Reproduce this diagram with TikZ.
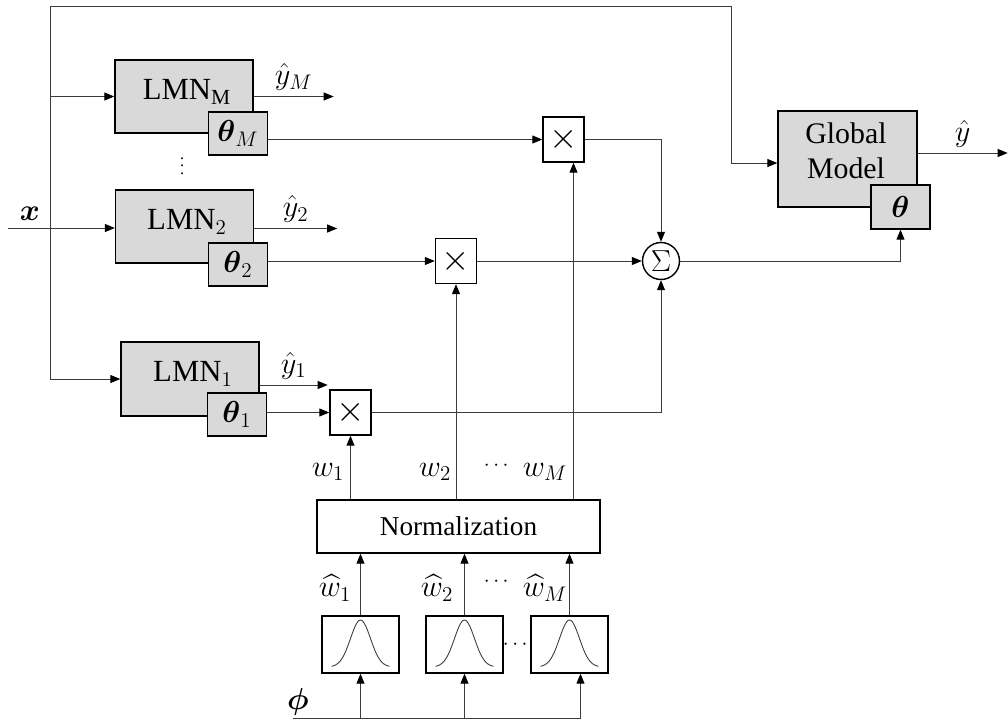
\documentclass[tikz,border=0pt]{standalone}
\usepackage{amsmath}
\usepackage{fontspec}
\setmainfont{Liberation Serif}
\usetikzlibrary{positioning,arrows.meta,calc}
\definecolor{boxgray}{HTML}{D9D9D9}
\definecolor{wire}{HTML}{3C3C3C}

\begin{document}
\begin{tikzpicture}[
  x=0.02cm, y=-0.02cm,
  font=\fontsize{15.5}{18}\selectfont,
  lmn/.style={rectangle, draw, line width=0.8pt, fill=boxgray, inner sep=0pt,
              minimum width=2.76cm, minimum height=1.46cm, align=center},
  thbox/.style={rectangle, draw, line width=0.8pt, fill=boxgray, inner sep=0pt,
                minimum width=1.18cm, minimum height=0.86cm, font=\fontsize{18}{20}\selectfont},
  prodbox/.style={rectangle, draw, line width=0.8pt, fill=white, inner sep=0pt,
                  minimum width=0.82cm, minimum height=0.9cm, font=\fontsize{21}{21}\selectfont},
  sumnode/.style={circle, draw, line width=0.8pt, fill=white, inner sep=0pt,
                  minimum size=0.74cm, font=\fontsize{19}{19}\selectfont},
  normbox/.style={rectangle, draw, line width=0.8pt, inner sep=0pt,
                  minimum width=5.66cm, minimum height=1.06cm},
  gbox/.style={rectangle, draw, line width=0.8pt, inner sep=0pt,
               minimum width=1.54cm, minimum height=1.14cm},
  arr/.style={-{Triangle[length=2mm,width=1.6mm,color=black]}, line width=0.55pt, wire},
  wireline/.style={line width=0.55pt, wire},
  lbl/.style={inner sep=1pt, text=black, font=\fontsize{18}{20}\selectfont},
  boxtxt/.style={inner sep=0pt, text=black, font=\fontsize{17.5}{20}\selectfont, align=center},
  smalldots/.style={inner sep=0pt, text=black, font=\fontsize{9}{9}\selectfont}
]
\useasboundingbox (0,0) rectangle (1008,721);

% --- local models with their parameter boxes ---
\node[lmn] (lmnM) at (184,96.5) {};
\node[boxtxt] (lmnMtxt) at (187,92) {LMN$_{\mathrm{M}}$};
\node[thbox] (thM) at (238,133.5) {$\boldsymbol{\theta}_M$};
\node[smalldots] (vdots) at (182,161) {$\vdots$};
\node[lmn] (lmn2) at (184.5,226.5) {};
\node[boxtxt] (lmn2txt) at (187,222) {LMN$_{2}$};
\node[thbox] (th2) at (238,264.5) {$\boldsymbol{\theta}_2$};
\node[lmn, minimum height=1.48cm] (lmn1) at (190,379) {};
\node[boxtxt] (lmn1txt) at (193,374) {LMN$_{1}$};
\node[thbox] (th1) at (237,414.5) {$\boldsymbol{\theta}_1$};

% --- global model ---
\node[lmn, minimum width=2.78cm, minimum height=1.92cm] (gm) at (847.5,159) {};
\node[boxtxt, font=\fontsize{17}{20}\selectfont] (gmtxt) at (846,151) {Global\\Model};
\node[thbox, minimum height=0.88cm] (thG) at (900.5,207) {$\boldsymbol{\theta}$};

% --- products and sum ---
\node[prodbox] (prodM) at (563.5,139.5) {$\times$};
\node[prodbox] (prod2) at (456,261) {$\times$};
\node[prodbox] (prod1) at (350.5,412.5) {$\times$};
\node[sumnode] (sum) at (661,261) {$\Sigma$};

% --- normalization and validity functions ---
\node[normbox] (norm) at (458.5,526.5) {Normalization};
\foreach \g/\gx in {1/360.5, 2/464.5, M/569.5}{
  \node[gbox] (g\g) at (\gx,644.5) {};
  \draw[line width=0.5pt, wire] plot[variable=\t, domain=-29:29, samples=41, smooth]
    ({\gx+\t},{667-47*exp(-((\t)*(\t))/200)});
}
\node[smalldots, font=\fontsize{12}{12}\selectfont] (gdots) at (517,645) {$\cdots$};

% --- input x and scheduling bus ---
\coordinate (xin) at (8,228);
\node[lbl] (xlab) at (30,214) {$\boldsymbol{x}$};
\coordinate (bustop) at (50,6);
\coordinate (busbot) at (50,379);
\coordinate (turn) at (731,6);
\draw[arr] (xin) -- (xin -| lmn2.west);
\draw[wireline] (busbot) -- (bustop) -- (turn);
\draw[arr] (turn) |- ($(gm.west)+(0,4)$);
\draw[arr] (bustop |- lmnM.west) -- (lmnM.west);
\draw[arr] (busbot) -- (lmn1.west);

% --- local outputs ---
\draw[arr] (lmnM.east) -- ++(80,0) node[midway, above=2pt, lbl] (yM) {$\hat{y}_M$};
\draw[arr] ($(lmn2.east)+(0,2)$) -- ++(83,0) node[midway, above=2pt, lbl] (y2) {$\hat{y}_2$};
\draw[arr] ($(lmn1.east)+(0,6)$) -- ++(68,0) node[midway, above=2pt, lbl] (y1) {$\hat{y}_1$};

% --- parameters weighted and summed ---
\draw[arr] (thM.east |- prodM.west) -- (prodM.west);
\draw[arr] (th2.east |- prod2.west) -- (prod2.west);
\draw[arr] (th1.east |- prod1.west) -- (prod1.west);
\draw[arr] (prodM.east) -| (sum.north);
\draw[arr] (prod2.east) -- (sum.west);
\draw[arr] (prod1.east) -| (sum.south);
\draw[arr] (sum.east) -| (thG.south);
\draw[arr] ($(gm.east)+(0,-6)$) -- ++(90,0) node[midway, above=2pt, lbl] (yG) {$\hat{y}$};

% --- weights ---
\coordinate (wMin) at ($(prodM.south)+(10,0)$);
\draw[arr] (norm.north -| prod1.south) -- (prod1.south);
\draw[arr] (norm.north -| prod2.south) -- (prod2.south);
\draw[arr] (norm.north -| wMin) -- (wMin);
\node[lbl] (w1) at (328,472) {$w_1$};
\node[lbl] (w2) at (435,472) {$w_2$};
\node[lbl, font=\fontsize{13}{13}\selectfont] (wdots) at (498,466) {$\cdots$};
\node[lbl] (wM) at (545,472) {$w_M$};

\draw[arr] (g1.north) -- (g1.north |- norm.south);
\draw[arr] (g2.north) -- (g2.north |- norm.south);
\draw[arr] (gM.north) -- (gM.north |- norm.south);
\node[lbl] (wh1) at (335,588) {$\widehat{w}_1$};
\node[lbl] (wh2) at (437,588) {$\widehat{w}_2$};
\node[lbl, font=\fontsize{13}{13}\selectfont] (whdots) at (498,582) {$\cdots$};
\node[lbl] (whM) at (545,588) {$\widehat{w}_M$};

% --- scheduling input phi ---
\coordinate (phil) at (293,718);
\coordinate (gMin) at ($(gM.south)+(11,0)$);
\node[lbl] (phi) at (298,702) {$\boldsymbol{\phi}$};
\draw[wireline] (phil) -- (phil -| gMin);
\draw[arr] (phil -| g1.south) -- (g1.south);
\draw[arr] (phil -| g2.south) -- (g2.south);
\draw[arr] (phil -| gMin) -- (gMin);

\end{tikzpicture}
\end{document}
